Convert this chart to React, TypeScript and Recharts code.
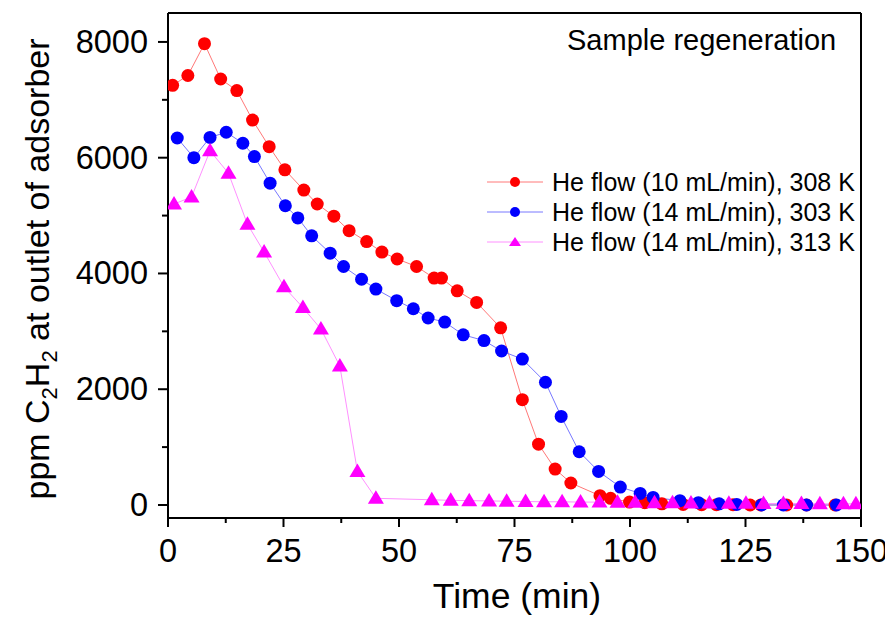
import React from 'react'
import { ComposedChart, Line, XAxis, YAxis, Legend, ReferenceLine, Customized } from 'recharts'

// He flow (10 mL/min), 308 K
const redTime = [1.0, 4.3, 7.9, 11.4, 14.9, 18.3, 21.9, 25.3, 29.4, 32.3, 35.9, 39.2, 43.0, 46.3, 49.6, 53.8, 57.6, 59.2, 62.6, 66.8, 72.0, 76.7, 80.2, 83.8, 87.2, 93.5, 95.8, 99.9, 103.2, 106.9, 111.5, 115.5, 118.7, 122.3, 126.0, 128.3, 133.9, 138.2, 144.4]
const redPpm = [7250, 7420, 7970, 7360, 7160, 6650, 6190, 5790, 5440, 5200, 4990, 4740, 4550, 4370, 4250, 4120, 3920, 3920, 3700, 3500, 3060, 1820, 1050, 620, 380, 160, 115, 50, 40, 20, 10, 5, 5, 5, 0, 0, 0, 0, 0]

// He flow (14 mL/min), 303 K
const blueTime = [2.0, 5.6, 9.1, 12.6, 16.2, 18.7, 22.1, 25.4, 28.1, 31.1, 35.1, 38.0, 41.9, 45.0, 49.5, 53.1, 56.3, 59.9, 63.9, 68.4, 72.2, 76.7, 81.7, 85.1, 89.0, 93.2, 97.9, 102.2, 105.0, 110.8, 114.8, 119.3, 123.1, 128.5, 133.2, 138.2, 144.7]
const bluePpm = [6340, 6000, 6350, 6440, 6250, 6020, 5560, 5170, 4960, 4650, 4350, 4120, 3900, 3730, 3530, 3390, 3230, 3160, 2940, 2840, 2660, 2520, 2120, 1530, 920, 580, 310, 200, 130, 75, 40, 20, 10, 0, 0, 0, 0]

// He flow (14 mL/min), 313 K
const pinkTime = [1.3, 5.1, 9.1, 13.1, 17.2, 20.8, 25.1, 29.2, 33.1, 37.2, 41.0, 45.0, 57.1, 61.2, 65.2, 69.5, 73.3, 77.4, 81.4, 85.3, 89.3, 93.4, 97.3, 101.1, 105.3, 109.2, 113.2, 117.2, 121.4, 125.1, 128.9, 133.2, 137.1, 141.1, 146.2, 148.9]
const pinkPpm = [5200, 5320, 6120, 5730, 4850, 4370, 3770, 3410, 3040, 2400, 580, 115, 90, 80, 75, 70, 65, 60, 55, 55, 50, 50, 45, 45, 40, 40, 35, 35, 30, 30, 25, 25, 25, 20, 20, 20]

const seriesNames = ['He flow (10 mL/min), 308 K', 'He flow (14 mL/min), 303 K', 'He flow (14 mL/min), 313 K']

const xTicks = [0, 12.5, 25, 37.5, 50, 62.5, 75, 87.5, 100, 112.5, 125, 137.5, 150]
const yTicks = [0, 1000, 2000, 3000, 4000, 5000, 6000, 7000, 8000]

const FONT = '"Liberation Sans", Arial, sans-serif'

const toRows = (t: number[], v: number[]) => t.map((x, i) => ({ t: x, ppm: v[i] }))

const redData = toRows(redTime, redPpm)
const blueData = toRows(blueTime, bluePpm)
const pinkData = toRows(pinkTime, pinkPpm)

const XTick = (props: any) => {
  const { x, y, payload } = props
  const major = payload.value % 25 === 0
  return (
    <g>
      <line x1={x} x2={x} y1={y} y2={y + (major ? 9 : 5)} stroke="#000" strokeWidth={2} />
      {major && (
        <text x={x} y={y + 44} textAnchor="middle" fontSize={32.5} fontFamily={FONT} fill="#000">
          {payload.value}
        </text>
      )}
    </g>
  )
}

const YTick = (props: any) => {
  const { x, y, payload } = props
  const major = payload.value % 2000 === 0
  return (
    <g>
      <line x1={x} x2={x - (major ? 10 : 6)} y1={y} y2={y} stroke="#000" strokeWidth={2} />
      {major && (
        <text x={x - 20} y={y + 11} textAnchor="end" fontSize={32.5} fontFamily={FONT} fill="#000">
          {payload.value}
        </text>
      )}
    </g>
  )
}

const Triangle = (props: any) => {
  const { cx, cy } = props
  if (cx == null || cy == null) return <g />
  return <polygon points={`${cx},${cy - 8} ${cx - 8},${cy + 5.5} ${cx + 8},${cy + 5.5}`} fill="#ff00ff" />
}

const legendItems = [
  { name: seriesNames[0], line: '#ff7878', fill: '#ff0000', shape: 'circle' },
  { name: seriesNames[1], line: '#7878ff', fill: '#0000ff', shape: 'circle' },
  { name: seriesNames[2], line: '#ff90ff', fill: '#ff00ff', shape: 'triangle' },
]

const LegendBox = () => (
  <div style={{ fontFamily: FONT, fontSize: 25, color: '#000' }}>
    {legendItems.map((it) => (
      <div key={it.name} style={{ display: 'flex', alignItems: 'center', height: 30 }}>
        <svg width={56} height={30} style={{ marginRight: 9 }}>
          <line x1={0} x2={56} y1={15} y2={15} stroke={it.line} strokeWidth={1} />
          {it.shape === 'circle' ? (
            <circle cx={28} cy={15} r={5} fill={it.fill} />
          ) : (
            <polygon points="28,10 22,19 34,19" fill={it.fill} />
          )}
        </svg>
        <span style={{ whiteSpace: 'nowrap' }}>{it.name}</span>
      </div>
    ))}
  </div>
)

const Texts = () => (
  <g fontFamily={FONT} fill="#000">
    <text x={559} y={42} fontSize={29}>Sample regeneration</text>
    <text x={509} y={600} fontSize={35.5} textAnchor="middle">Time (min)</text>
    <text x={41} y={261} fontSize={34} textAnchor="middle" transform="rotate(-90, 41, 261)">
      ppm C<tspan fontSize={22} dy={8}>2</tspan>
      <tspan dy={-8}>H</tspan>
      <tspan fontSize={22} dy={8}>2</tspan>
      <tspan dy={-8}> at outlet of adsorber</tspan>
    </text>
  </g>
)

export default function App() {
  return (
    <ComposedChart width={885} height={609} margin={{ top: 5, right: 32, bottom: 0, left: 0 }}>
      <XAxis
        dataKey="t"
        type="number"
        domain={[0, 150]}
        ticks={xTicks}
        interval={0}
        allowDataOverflow
        height={99}
        tickSize={0}
        tickMargin={0}
        tickLine={false}
        tick={<XTick />}
        axisLine={{ stroke: '#000', strokeWidth: 2 }}
      />
      <YAxis
        type="number"
        domain={[-225, 8500]}
        ticks={yTicks}
        interval={0}
        allowDataOverflow
        width={160}
        tickSize={0}
        tickMargin={0}
        tickLine={false}
        tick={<YTick />}
        axisLine={{ stroke: '#000', strokeWidth: 2 }}
      />
      <ReferenceLine y={8500} stroke="#000" strokeWidth={2} />
      <ReferenceLine x={150} stroke="#000" strokeWidth={2} />
      <Line
        data={redData}
        dataKey="ppm"
        name={seriesNames[0]}
        stroke="#ff7878"
        strokeWidth={1}
        dot={{ r: 6.5, fill: '#ff0000', stroke: 'none' }}
        activeDot={false}
        isAnimationActive={false}
      />
      <Line
        data={blueData}
        dataKey="ppm"
        name={seriesNames[1]}
        stroke="#7878ff"
        strokeWidth={1}
        dot={{ r: 6.5, fill: '#0000ff', stroke: 'none' }}
        activeDot={false}
        isAnimationActive={false}
      />
      <Line
        data={pinkData}
        dataKey="ppm"
        name={seriesNames[2]}
        stroke="#ff90ff"
        strokeWidth={1}
        dot={<Triangle />}
        activeDot={false}
        isAnimationActive={false}
      />
      <Legend
        layout="vertical"
        align="center"
        verticalAlign="middle"
        content={<LegendBox />}
        wrapperStyle={{ left: 479, top: 159, width: 'auto', height: 'auto' }}
      />
      <Customized component={<Texts />} />
    </ComposedChart>
  )
}
